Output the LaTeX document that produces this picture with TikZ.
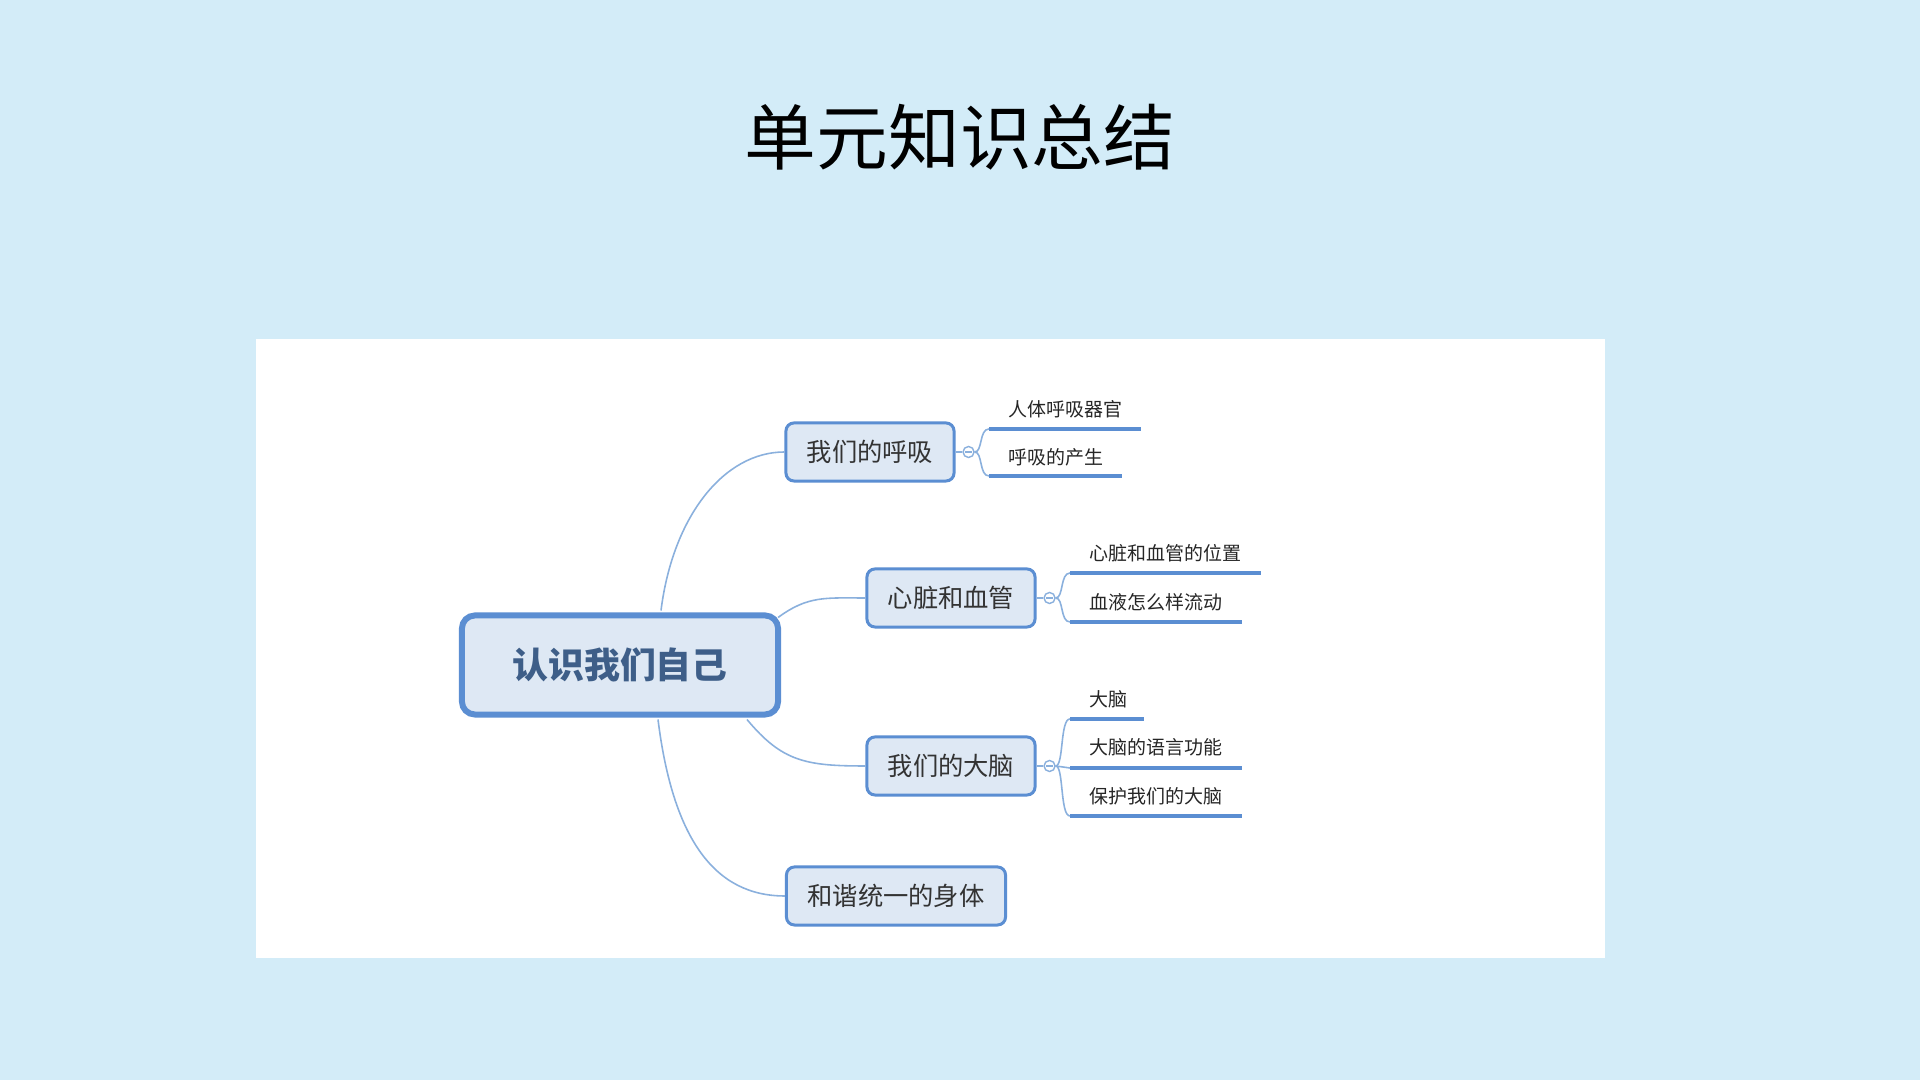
\documentclass[tikz,border=0pt]{standalone}
\usepackage{fontspec}
\newfontfamily\cjk{Noto Sans CJK SC}
\usetikzlibrary{calc}
\definecolor{bgblue}{HTML}{D3ECF8}
\definecolor{nodeline}{HTML}{5B8ED2}
\definecolor{nodefill}{HTML}{DEE8F4}
\definecolor{conn}{HTML}{8AB0DD}
\definecolor{txt}{HTML}{333333}
\definecolor{roottxt}{HTML}{3E5E88}
\begin{document}
\begin{tikzpicture}[x=0.01cm,y=-0.01cm,
  titlestyle/.style={font=\cjk\fontsize{20.4}{24}\selectfont,text=black,inner sep=0pt},
  rootbox/.style={draw=nodeline,fill=nodefill,line width=1.7pt,rounded corners=0.13cm,minimum width=3.16cm,minimum height=0.99cm,inner sep=0pt,font=\cjk\bfseries\fontsize{10.2}{12}\selectfont,text=roottxt},
  topic/.style={draw=nodeline,fill=nodefill,line width=0.85pt,rounded corners=0.08cm,minimum width=1.68cm,minimum height=0.58cm,inner sep=0pt,font=\cjk\fontsize{7.2}{8}\selectfont,text=txt},
  subtext/.style={anchor=west,inner sep=0pt,font=\cjk\fontsize{5.4}{6}\selectfont,text=black!85},
  uline/.style={draw=nodeline,line width=1.15pt},
  link/.style={draw=conn,line width=0.45pt},
  collapse/.style={circle,draw=conn,fill=white,line width=0.4pt,minimum size=0.11cm,inner sep=0pt,
    path picture={\draw[conn,line width=0.35pt] ([xshift=0.022cm]path picture bounding box.west) -- ([xshift=-0.022cm]path picture bounding box.east);}}
]
\useasboundingbox (0,0) rectangle (1920,1080);
\fill[bgblue] (0,0) rectangle (1920,1080);
\fill[white] (256,339) rectangle (1605,958);

\node[titlestyle] (title) at (960,137) {单元知识总结};

% main nodes
\node[rootbox] (root) at (620,665) {认识我们自己};
\node[topic] (t1) at (870,452) {我们的呼吸};
\node[topic] (t2) at (951,598) {心脏和血管};
\node[topic] (t3) at (951,766) {我们的大脑};
\node[topic,minimum width=2.19cm] (t4) at (896,896) {和谐统一的身体};

% root connectors
\draw[link] ($(root.north)+(41,-2)$) .. controls +(12,-95) and +(-60,0) .. (t1.west);
\draw[link] ($(root.north east)+(-3,5)$) .. controls +(30,-22) and +(-40,0) .. (t2.west);
\draw[link] ($(root.south)+(127,2)$) .. controls +(35,42) and +(-60,0) .. (t3.west);
\draw[link] ($(root.south)+(38,2)$) .. controls +(15,120) and +(-70,0) .. (t4.west);

% collapse markers
\node[collapse] (c1) at ($(t1.east)+(13,0)$) {};
\node[collapse] (c2) at ($(t2.east)+(13,0)$) {};
\node[collapse] (c3) at ($(t3.east)+(13,0)$) {};
\draw[link] (t1.east) -- (c1.west);
\draw[link] (t2.east) -- (c2.west);
\draw[link] (t3.east) -- (c3.west);

% group 1
\coordinate (u11) at (989,429);
\coordinate (u12) at (989,476);
\node[subtext] (s11) at (1008,409) {人体呼吸器官};
\node[subtext] (s12) at (1008,457) {呼吸的产生};
\draw[link] (c1.east) .. controls +(8,0) and +(-10,0) .. (u11);
\draw[link] (c1.east) .. controls +(8,0) and +(-10,0) .. (u12);
\draw[uline] (u11) -- (1141,429);
\draw[uline] (u12) -- (1122,476);

% group 2
\coordinate (u21) at (1070,573);
\coordinate (u22) at (1070,622);
\node[subtext] (s21) at (1089,553) {心脏和血管的位置};
\node[subtext] (s22) at (1089,602) {血液怎么样流动};
\draw[link] (c2.east) .. controls +(8,0) and +(-10,0) .. (u21);
\draw[link] (c2.east) .. controls +(8,0) and +(-10,0) .. (u22);
\draw[uline] (u21) -- (1261,573);
\draw[uline] (u22) -- (1242,622);

% group 3
\coordinate (u31) at (1070,719);
\coordinate (u32) at (1070,768);
\coordinate (u33) at (1070,816);
\node[subtext] (s31) at (1089,699) {大脑};
\node[subtext] (s32) at (1089,747) {大脑的语言功能};
\node[subtext] (s33) at (1089,796) {保护我们的大脑};
\draw[link] (c3.east) .. controls +(8,0) and +(-10,0) .. (u31);
\draw[link] (c3.east) -- (u32);
\draw[link] (c3.east) .. controls +(8,0) and +(-10,0) .. (u33);
\draw[uline] (u31) -- (1144,719);
\draw[uline] (u32) -- (1242,768);
\draw[uline] (u33) -- (1242,816);
\end{tikzpicture}
\end{document}
